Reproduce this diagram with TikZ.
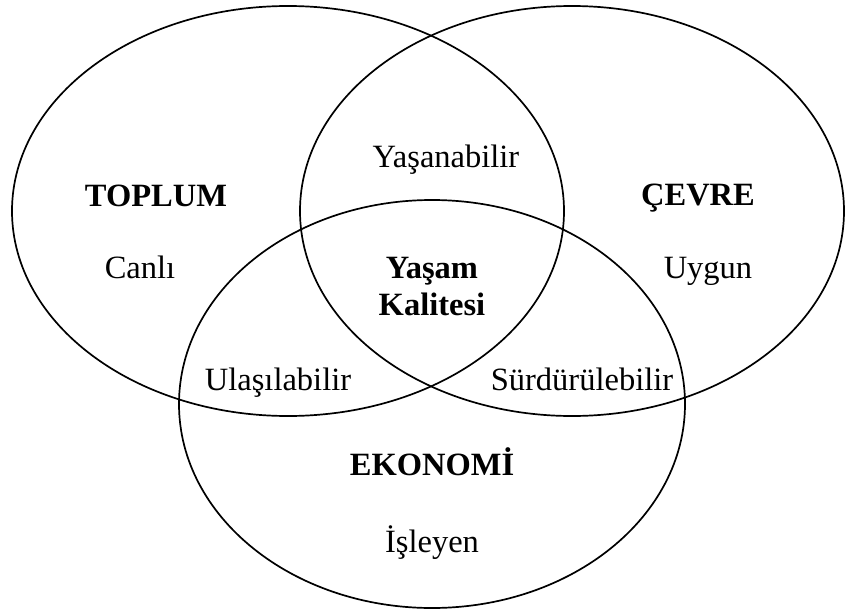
\documentclass[tikz,border=0pt]{standalone}
\usepackage{fontspec}
\setmainfont{Liberation Serif}
\begin{document}
\begin{tikzpicture}[x=1pt,y=-1pt,
  ring/.style={draw=black,line width=1.7pt},
  lbl/.style={anchor=base,inner sep=0pt,font=\fontsize{32.5}{37}\selectfont},
  hdr/.style={lbl,font=\fontsize{32.5}{37}\selectfont\bfseries}]
\useasboundingbox (0,0) rectangle (846,613);
\draw[ring] (288,211) ellipse [x radius=276, y radius=205];
\draw[ring] (572,211) ellipse [x radius=272, y radius=205];
\draw[ring] (432,404) ellipse [x radius=253, y radius=204];
\node[hdr] (toplum) at (156,206) {TOPLUM};
\node[lbl] (canli) at (140,278) {Canlı};
\node[lbl] (yasanabilir) at (446,167) {Yaşanabilir};
\node[hdr] (cevre) at (698,205) {ÇEVRE};
\node[lbl] (uygun) at (708,278) {Uygun};
\node[hdr] (yasam) at (432,278) {Yaşam};
\node[hdr] (kalitesi) at (432,315) {Kalitesi};
\node[lbl] (ulasilabilir) at (278,390) {Ulaşılabilir};
\node[lbl] (surdurulebilir) at (582,390) {Sürdürülebilir};
\node[hdr] (ekonomi) at (432,475) {EKONOMİ};
\node[lbl] (isleyen) at (432,552) {İşleyen};
\end{tikzpicture}
\end{document}
